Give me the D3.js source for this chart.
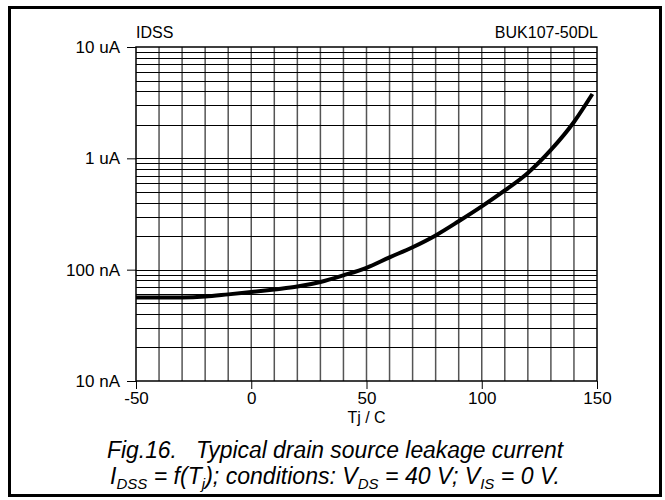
<!DOCTYPE html>
<html lang="en">
<head>
<meta charset="UTF-8">
<title>IDSS vs Tj</title>
<script src="https://d3js.org/d3.v7.min.js"></script>
<style>
  body { margin: 0; background: #fff; }
  text { font-family: "Liberation Sans", Arial, sans-serif; }
</style>
</head>
<body>
<div id="chart"></div>
<script>
// junction temperature (C)
var tj = [-50, -40, -30, -20, -10, 0, 10, 20, 30, 40, 50, 60, 70, 80, 90, 100, 110, 120, 130, 140, 148];
// leakage current (nA)
var idss = [56.3, 56.3, 56.3, 57.3, 60, 63, 66.5, 70.5, 77.5, 89, 104, 129, 159, 203, 272, 370, 515, 740, 1190, 2120, 3780];

var xTicks = [-50, 0, 50, 100, 150];
var yTicks = [10, 100, 1000, 10000];
var yTickLabels = ["10 nA", "100 nA", "1 uA", "10 uA"];

var W = 665, H = 500;
var margin = {top: 47, right: 68, bottom: 119, left: 136};
var width = W - margin.left - margin.right,
    height = H - margin.top - margin.bottom;

var svg = d3.select("#chart").append("svg")
  .attr("width", W).attr("height", H);

// outer frame
svg.append("rect")
  .attr("x", 9.5).attr("y", 7.5)
  .attr("width", 651).attr("height", 488)
  .attr("fill", "none").attr("stroke", "#000").attr("stroke-width", 3);

var g = svg.append("g")
  .attr("transform", "translate(" + margin.left + "," + margin.top + ")");

var x = d3.scaleLinear().domain([-50, 150]).range([0, width]);
var y = d3.scaleLog().domain([10, 10000]).range([height, 0]);

// vertical grid every 10 C
g.selectAll(".vgrid")
  .data(d3.range(-40, 150, 10))
  .enter().append("line")
  .attr("x1", function(d) { return x(d); })
  .attr("x2", function(d) { return x(d); })
  .attr("y1", 0).attr("y2", height)
  .attr("stroke", "#555").attr("stroke-width", 1.5);

// horizontal log grid
var minor = [];
[10, 100, 1000].forEach(function(dec) {
  for (var k = 2; k <= 9; k++) minor.push(dec * k);
});
minor.push(100, 1000);
g.selectAll(".hgrid")
  .data(minor)
  .enter().append("line")
  .attr("x1", 0).attr("x2", width)
  .attr("y1", function(d) { return Math.round(y(d)) + 0.5; })
  .attr("y2", function(d) { return Math.round(y(d)) + 0.5; })
  .attr("stroke", "#000").attr("stroke-width", 1);

// plot frame
g.append("rect")
  .attr("x", 0).attr("y", 0)
  .attr("width", width).attr("height", height)
  .attr("fill", "none").attr("stroke", "#000").attr("stroke-width", 1.5);

// y axis
var yAxis = g.append("g")
  .call(d3.axisLeft(y).tickValues(yTicks).tickSize(9).tickPadding(7)
    .tickFormat(function(d, i) { return yTickLabels[i]; }));
yAxis.select(".domain").remove();
yAxis.selectAll("line").attr("stroke", "#000").attr("stroke-width", 1);
yAxis.selectAll("text").style("font-size", "17px").attr("fill", "#000")
  .style("font-family", "'Liberation Sans', Arial, sans-serif");

// x axis
var xAxis = g.append("g")
  .attr("transform", "translate(0," + height + ")")
  .call(d3.axisBottom(x).tickValues(xTicks).tickSize(8).tickPadding(3)
    .tickFormat(function(d) { return String(d); }));
xAxis.select(".domain").remove();
xAxis.selectAll("line").attr("stroke", "#000").attr("stroke-width", 1);
xAxis.selectAll("text").style("font-size", "17px").attr("fill", "#000")
  .style("font-family", "'Liberation Sans', Arial, sans-serif");

// curve
var line = d3.line()
  .x(function(d, i) { return x(tj[i]); })
  .y(function(d) { return y(d); })
  .curve(d3.curveMonotoneX);
g.append("path")
  .datum(idss)
  .attr("d", line)
  .attr("fill", "none")
  .attr("stroke", "#000")
  .attr("stroke-width", 4);

// labels
g.append("text").attr("x", 0).attr("y", -9)
  .style("font-size", "16px").text("IDSS");
g.append("text").attr("x", width + 1).attr("y", -9)
  .attr("text-anchor", "end")
  .style("font-size", "16px").text("BUK107-50DL");
g.append("text").attr("x", width / 2).attr("y", height + 42)
  .attr("text-anchor", "middle")
  .style("font-size", "16px").text("Tj / C");

// caption
svg.append("text").attr("x", 335).attr("y", 458)
  .attr("text-anchor", "middle")
  .attr("textLength", 456).attr("lengthAdjust", "spacingAndGlyphs")
  .style("font-size", "23px").style("font-style", "italic")
  .attr("xml:space", "preserve")
  .text("Fig.16.   Typical drain source leakage current");

var cap2 = svg.append("text").attr("x", 335).attr("y", 484)
  .attr("text-anchor", "middle")
  .attr("textLength", 450).attr("lengthAdjust", "spacingAndGlyphs")
  .style("font-size", "23px").style("font-style", "italic");
cap2.append("tspan").text("I");
cap2.append("tspan").attr("dy", 5).style("font-size", "15px").text("DSS");
cap2.append("tspan").attr("dy", -5).text(" = f(T");
cap2.append("tspan").attr("dy", 5).style("font-size", "15px").text("j");
cap2.append("tspan").attr("dy", -5).text("); conditions: V");
cap2.append("tspan").attr("dy", 5).style("font-size", "15px").text("DS");
cap2.append("tspan").attr("dy", -5).text(" = 40 V; V");
cap2.append("tspan").attr("dy", 5).style("font-size", "15px").text("IS");
cap2.append("tspan").attr("dy", -5).text(" = 0 V.");
</script>
</body>
</html>
